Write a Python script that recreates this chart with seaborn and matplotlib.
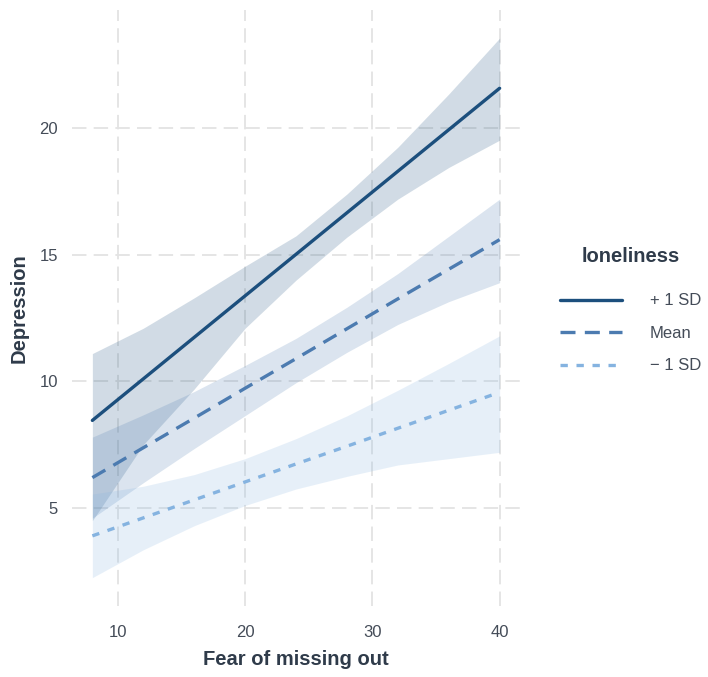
import numpy as np
import pandas as pd
import seaborn as sns
import matplotlib.pyplot as plt
from matplotlib.lines import Line2D

# === values ===
fomo = [8, 12, 16, 20, 24, 28, 32, 36, 40]

plus_fit = [8.46, 10.1, 11.74, 13.38, 15.02, 16.66, 18.3, 19.94, 21.58]
plus_hi = [11.1, 12.1, 13.3, 14.55, 15.75, 17.4, 19.25, 21.35, 23.56]
plus_lo = [4.5, 7.5, 9.7, 12.1, 14.0, 15.7, 17.2, 18.45, 19.53]

mean_fit = [6.2, 7.38, 8.55, 9.73, 10.9, 12.08, 13.26, 14.43, 15.6]
mean_hi = [7.8, 8.68, 9.6, 10.63, 11.7, 12.93, 14.26, 15.73, 17.2]
mean_lo = [4.6, 6.0, 7.35, 8.65, 9.95, 11.15, 12.25, 13.15, 13.9]

minus_fit = [3.9, 4.61, 5.32, 6.03, 6.74, 7.44, 8.15, 8.86, 9.57]
minus_hi = [5.55, 5.86, 6.32, 6.95, 7.74, 8.64, 9.65, 10.71, 11.8]
minus_lo = [2.25, 3.35, 4.3, 5.1, 5.75, 6.25, 6.7, 6.95, 7.2]

groups = ["+ 1 SD", "Mean", "\u2212 1 SD"]

# === long table ===
rows = []
for g, fit, lo, hi in zip(groups,
                          [plus_fit, mean_fit, minus_fit],
                          [plus_lo, mean_lo, minus_lo],
                          [plus_hi, mean_hi, minus_hi]):
    rows.append(pd.DataFrame({"fomo": fomo, "dep": fit, "lo": lo, "hi": hi, "group": g}))
df = pd.concat(rows, ignore_index=True)

colors = {"+ 1 SD": "#1c4f7d", "Mean": "#4c7bb0", "\u2212 1 SD": "#85b3e0"}
dashes = {"+ 1 SD": "", "Mean": (4.5, 2.8), "\u2212 1 SD": (2.2, 2.6)}

sns.set_theme(style="whitegrid")
plt.rcParams['font.family'] = ['Liberation Sans', 'DejaVu Sans']

fig = plt.figure(figsize=(7.08, 6.77), dpi=100)
ax = fig.add_axes([72 / 708, 71 / 677, 448 / 708, 596 / 677])

# bands first
for g in groups:
    d = df[df["group"] == g]
    ax.fill_between(d["fomo"], d["lo"], d["hi"], color=colors[g], alpha=0.2, lw=0)

sns.lineplot(data=df, x="fomo", y="dep", hue="group", style="group",
             hue_order=groups, style_order=groups, palette=colors,
             dashes=dashes, linewidth=2.4, legend=False, ax=ax)

ax.set_xlim(6.4, 41.6)
ax.set_ylim(1.13, 24.67)
ax.set_xticks([10, 20, 30, 40])
ax.set_yticks([5, 10, 15, 20])
ax.grid(True, color="#e3e3e3", linestyle=(0, (8, 4)), linewidth=1.3)
for s in ax.spines.values():
    s.set_visible(False)
ax.set_facecolor("white")
ax.tick_params(length=0, labelsize=12, labelcolor="#444c58")
ax.tick_params(axis="y", pad=10)
ax.tick_params(axis="x", pad=14)

ax.set_xlabel("Fear of missing out", fontsize=14.5, fontweight="bold", color="#2f3b4a", labelpad=7)
ax.set_ylabel("Depression", fontsize=14.5, fontweight="bold", color="#2f3b4a", labelpad=8)

handles = [Line2D([], [], color=colors[g], lw=2.4,
                  linestyle="-" if dashes[g] == "" else (0, dashes[g]))
           for g in groups]
leg = fig.legend(handles, groups, title="loneliness", loc="center left",
                 bbox_to_anchor=(545 / 708, 1 - 310 / 677), frameon=False,
                 fontsize=12, title_fontsize=14.5, handlelength=3.7,
                 handletextpad=1.7, labelspacing=1.05)
leg.get_title().set_fontweight("bold")
leg.get_title().set_color("#2f3b4a")
leg._legend_box.sep = 20
for t in leg.get_texts():
    t.set_color("#444c58")

plt.savefig("out.png", dpi=100)
